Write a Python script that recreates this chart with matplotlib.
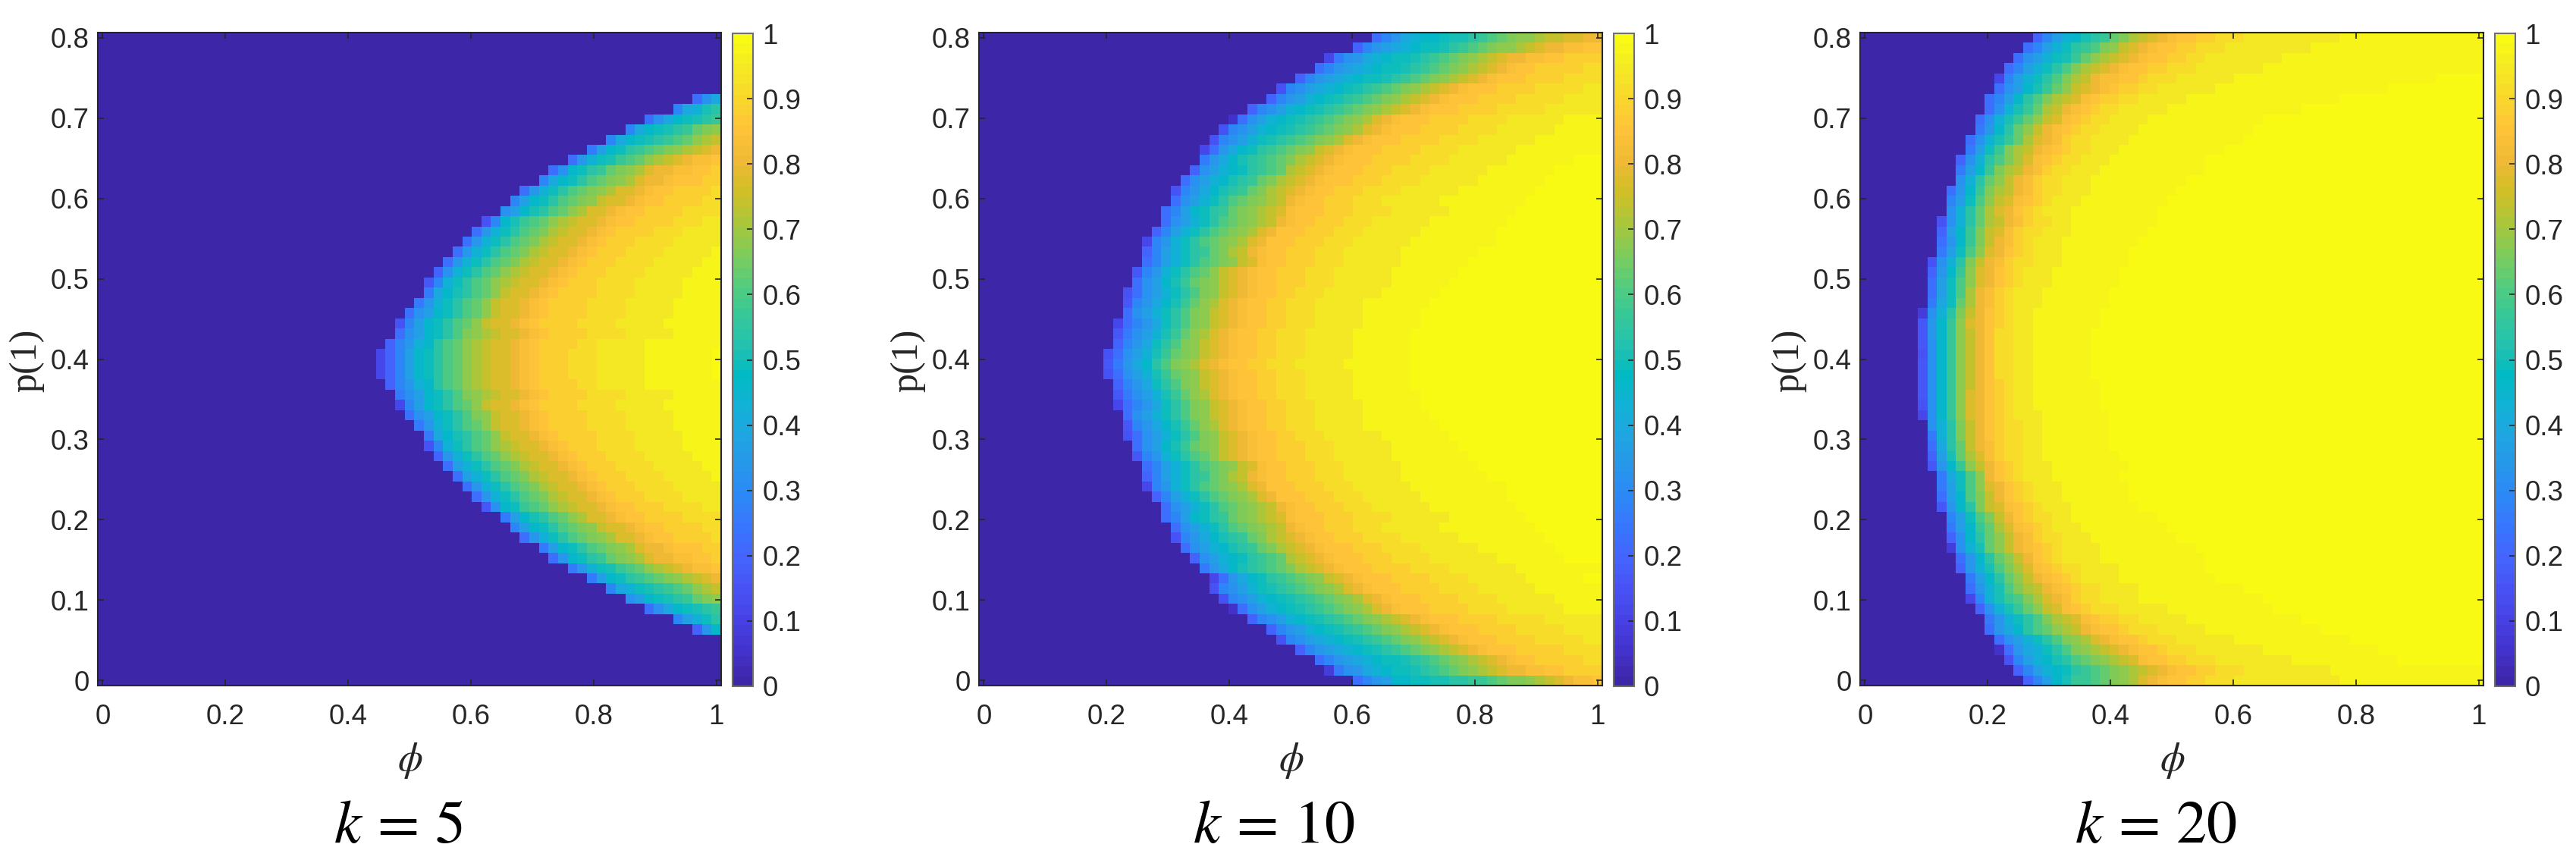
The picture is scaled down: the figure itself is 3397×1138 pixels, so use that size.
import matplotlib
matplotlib.use("Agg")
import matplotlib.pyplot as plt
import numpy as np
from matplotlib.colors import LinearSegmentedColormap

# valores: cada fila va de arriba (p=0.8) hacia abajo (p=0)
# zeros_kN = celdas en cero a la izquierda, levels_kN = niveles en base 36 (z = 1),
# las celdas que faltan a la derecha de cada fila quedan en 1
k_values = [5, 10, 20]
phi_ticks = [0, 0.2, 0.4, 0.6, 0.8, 1]
phi_labels = ["0", "0.2", "0.4", "0.6", "0.8", "1"]
p_ticks = [0, 0.1, 0.2, 0.3, 0.4, 0.5, 0.6, 0.7, 0.8]
p_labels = ["0", "0.1", "0.2", "0.3", "0.4", "0.5", "0.6", "0.7", "0.8"]
cbar_ticks = [0, 0.1, 0.2, 0.3, 0.4, 0.5, 0.6, 0.7, 0.8, 0.9, 1]
cbar_labels = ["0", "0.1", "0.2", "0.3", "0.4", "0.5", "0.6", "0.7", "0.8", "0.9", "1"]

zeros_k5 = [65, 65, 65, 65, 65, 65,
            62, 60, 57, 55, 53, 51, 49, 47, 46, 44, 43, 42, 40, 39, 38, 37, 36, 35, 34, 34, 33, 32, 31, 31, 30, 29, 29, 29,
            30, 31, 31, 32, 33, 34, 34, 35, 36, 37, 38, 39, 40, 42, 43, 44, 46, 47, 49, 51, 53, 55, 57, 60, 62,
            65, 65, 65, 65, 65]
levels_k5 = ["", "", "", "", "", "",
    "8be", "aefij", "8beghijk", "aeghijkmno", "aeghijklmopq", "9dghjklmnopqrs", "8cfhiklmopqrsttu",
    "8bghjkmnoprssttuuv", "aeghjlmnoprsstuuuvv", "8cfhjlmnoprrstuuvvvvw", "adghjlmnoqrrstuuvvvvww",
    "bdgijlmoprrstuuvvvvwwww", "5agiklmopqrrstuuvvvvwwwxx", "8cfhjlmnpqrrstuvvvvwwwxxxx",
    "8cfhjlmnpqrrstuvvvwwwwxxxxx", "8cfhjlmnpqrrstuvvvwwwwxxxxxy", "8cfhjlmnpqrrstuvvvwwwwxxxxxyy",
    "7bfhjlmopqrrstuvvvwwwwxxxxxyyy", "6afhjlmopqrrstuvvvwwwwxxxxxyyyy", "9egijlmoqrrstuvvvvwwwwxxxxxyyyy",
    "9cfhjlmoqrrstuvvvvwwwwxxxxxyyyyy", "8bdghjlmoqrrstuvvvvwwwwxxxxxyyyyy", "5adghjlmoqrrstuvvvvwwwwxxxxxyyyyyy",
    "8bdghjlnopqrrstuvvvvwwwwxxxxxyyyyy", "7acfgjlmopqrrstuvvvvwwxxxxxyyyyyyyy",
    "47adghjlmopqrrstuvvvwwwxxxxxyyyyyyyz", "47adghjlmopqrrstuvvvwwwxxxxxyyyyyyyz", "47adghjlmopqrrstuvvvwwwxxxxxyyyyyyyz",
    "7acfgjlmopqrrstuvvvvwwxxxxxyyyyyyyy", "9bdghjlnopqrrstuvvvvwwwwxxxxxyyyyy", "4adghjlmoqrrstuvvvvwwwwxxxxxyyyyyy",
    "8bdghjlnoqrrstuvvvvwwwwxxxxxyyyyy", "9cfhjlmoqrrstuvvvvwwwwxxxxxyyyyy", "9egijlmoqrrstuvvvvwwwwxxxxxyyyy",
    "5afhjlmopqrrstuvvvwwwwxxxxxyyyy", "7cfhjlmopqrrstuvvvwwwwxxxxxyyy", "8dfhjlmnpqrrstuvvvwwwwxxxxxyy",
    "8dfhjlmnpqrrstuvvvwwwwxxxxxy", "8cfhjlmnpqrrstuvvvwwwwxxxxx", "8cfhjlmnpqrrstuvvvwwwwxxxx",
    "6bghklmopqrrstuuvvvwwwwxx", "9dgijlmoprrstuuvvvvwwww", "adghjlmnoqrrstuuvvvvww", "8cfhjlmnoprrstuuvvvvw",
    "9dghjlmnoprsstuuuvv", "8cghjkmnoprssttuuv", "9cfhiklmopqrsttu", "9dghjklmnopqrs", "aefhijklmopq",
    "bdghijkmno", "8beghijk", "adfhj", "7cg",
    "", "", "", "", ""]

zeros_k10 = [41, 39, 36, 35, 33, 31, 30, 28, 26, 25, 24, 23, 23, 22, 21, 20, 20, 19, 19, 18, 17, 17, 17, 16, 16, 15, 15, 15, 14, 14, 14, 13,
             13, 13, 14, 14, 14, 15, 15, 15, 16, 16, 17, 17, 17, 18, 19, 19, 20, 20, 21, 22, 23, 24, 24, 25, 26, 28, 30, 31, 33, 35, 36, 39]
levels_k10 = [
    "8acefgghiijklmnoopqqrrss", "7acdefghhijklmnoopqrssttuu", "49bcefghhijklmnopqrssttuuvvvv",
    "8acdefghhijklmnopqrstuuvvvvvww", "7acdefghhijklmnopqrstuuuvvvvwwww", "5abdefghijklmnopqrstuuuvvvvwwwwwxx",
    "7acdfghijklmnopqrstuuuvvvvwwwwwxxxx", "7abdfghijklmnopqrstuuuvvvvwwwwwxxxxxx",
    "28bdfghijklmnoprstuuuvvvvwwwwxxxxxxyyyy", "5abdfghijklmnoprstuuuvvvvwwwwxxxxxxyyyyy",
    "5abdfhijklmnoprstuuuvvvvwwwwxxxxxxyyyyyyy", "48ceghjklmnoqrstuuuvvvvwwwwxxxxxxyyyyyyyyy",
    "9cegijklmnpqrstuuuvvvvwwwwxxxxxxyyyyyyy", "7bdfghjklmpqrstuuuvvvwwwwxxxxxxyyyyyyy",
    "8bdfgijkmnpqrstuuuvvvwwwwxxxxxxyyyyyyy", "5acegijkmnpqrstuuvvvwwwwxxxxxxyyyyyyyy",
    "8bdfhjlmnopqstuuvvvwwwxxxxxxyyyyyyyyy", "8adghjkmnopqrtuuuvvvwwwwxxxxxxyyyyyyy",
    "8bdfhjlmnopqstuuvvvwwwxxxxxxyyyyyyyy", "7adfhjlmnoprsuuuvvvwwwxxxxxxyyyyyyyy",
    "4acfhjlmnoprsuuuvvvwwwxxxxxxyyyyyyyyy", "7adfhjkmnpqstuuvvvwwwxxxxxxyyyyyyyy",
    "8adfhjlmnoqrtuuvvvwwwxxxxxxyyyyyyy", "6acfhjlmoqrstuuvvvwwwxxxxxxyyyyyyy",
    "8bdgikmnoqrstuuvvvwwwxxxxxxyyyyyy", "58bdfhjlnoqrstuuvvwwwxxxxxxyyyyyy",
    "6acegikmoprstuuvvwwwxxxxxyyyyyyy", "8bdfhjlnoqrstuuvvwwwxxxxxyyyyyy",
    "48acehjlnoqrstuuvvwwwxxxxxyyyyyy", "69bdfikmoprstuuvvwwwxxxxxyyyyyy",
    "7acehjlnoqrstuuvvwwwxxxxxyyyyyy", "58bdfikmnoqrstuuvvwwwxxxxxyyyyyy",
    "69cegjlnoprstuuvvwwwxxxxxyyyyyyy", "58bdfikmnoqrstuuvvwwwxxxxxyyyyyy",
    "7acehjlnoqrstuuvvwwwxxxxxyyyyyy", "69bdfikmoprstuuvvwwwxxxxxyyyyyyy",
    "48acehjlnoqrstuuvvwwwxxxxxyyyyyy", "8bdfhjlnoqrstuuvvwwwxxxxxyyyyyyy",
    "6acegikmoprstuuvvwwwxxxxxyyyyyyyy", "58bdfhjlnoqrstuuvvwwwxxxxxxyyyyyyy",
    "8bdgikmnoqrstuuvvvwwwxxxxxxyyyyyyy", "6acfhjlmoqrstuuvvvwwwxxxxxxyyyyyyyy",
    "8adfhjlmnoqrtuuvvvwwwxxxxxxyyyyyyyy", "7adfhjkmnpqstuuvvvwwwxxxxxxyyyyyyyyy",
    "4acfhjlmnoprsuuuvvvwwwxxxxxxyyyyyyyyyy", "7adfhjlmnoprsuuuvvvwwwxxxxxxyyyyyyyyy",
    "8bdfhjlmnopqstuuvvvwwwxxxxxxyyyyyyyyy", "8adghjkmnopqrtuuuvvvwwwwxxxxxxyyyyyyyy",
    "8bdfhjlmnopqstuuvvvwwwxxxxxxyyyyyyyyyy", "5acegijkmnpqrstuuvvvwwwwxxxxxxyyyyyyyyy",
    "8bdfgijkmnpqrstuuuvvvwwwwxxxxxxyyyyyyyy", "7bdfghjklmpqrstuuuvvvwwwwxxxxxxxyyyyyyy",
    "9cegijklmnpqrstuuuvvvvwwwwxxxxxxxyyyyyyyyy", "48ceghjklmnoqrstuuuvvvvwwwwxxxxxxyyyyyy",
    "5abdfhijklmnoprstuuuvvvvwwwwxxxxxxyyyyyyy", "5abdfghijklmnoprstuuuvvvvwwwwxxxxxxyyyyy",
    "28bdfghijklmnoprstuuuvvvvwwwwxxxxxxyyyy", "7abdfghijklmnopqrstuuuvvvvwwwwwxxxxxx",
    "7acdfghijklmnopqrstuuuvvvvwwwwwxxxx", "5abdefghijklmnopqrstuuuvvvvwwwwwxx",
    "7acdefghijklmnopqrstuuuvvvvvwwww", "8acdefghhijklmnopqrstuuvvvvvww",
    "39bcefghhijklmnopqrssttuuvvvv", "8acdgghhiijjkklmnnopqrsttu"]

zeros_k20 = [18, 17, 16, 15, 14, 14, 13, 13, 12, 12, 11, 11, 10, 10, 10, 9, 9, 9, 8, 8, 8, 8, 7, 7, 7, 7, 7, 6, 6, 6, 6, 6,
             6, 6, 6, 6, 6, 6, 7, 7, 7, 7, 7, 8, 8, 8, 8, 9, 9, 9, 9, 10, 10, 11, 11, 11, 12, 13, 13, 14, 14, 15, 16, 17]
levels_k20 = [
    "7adfgijkmnpqrstuuvvwwwxxxxxxxxxxyyyyyyyyyyyyyyy", "8adfhjklnoqrstuuvvwwwxxxxxxxxxyyyyyyyyyyyyyyyyyy",
    "8bdfhikmopqrstuuvvwwxxxxxxxxyyyyyyyyyyyyyyyyyyyyy", "8adfhjlnpqrstuuvvwwwxxxxxxxyyyyyyyyyyyyyyyyyyyyyyy",
    "4adfhjlnpqsttuuvwwwxxxxxxyyyyyyyyyyyyyyyyyyyyy", "8bdgikmoqrstuvvwwxxxxxxyyyyyyyyyyyyyyyyyy",
    "8adgjlnpqrtuvvwwxxxxxyyyyyyyyyyyyyyyy", "8bfikmpqstuvwwxxxxxyyyyyyyyyyyyyy",
    "8bfikmoqrtuvwwxxxxyyyyyyyyyyyy", "9cgjmoqstuvwwxxxxyyyyyyyyyyyy", "8bfikmprstvwwxxxxyyyyyyyyyyyy",
    "9dhknpqstuvwwxxxyyyyyyyyyyy", "7bfjlnprtuvwwxxxyyyyyyyyyy", "9dgknpqstvwwxxxyyyyyyyyyyy",
    "bfjmoqstvwwxxxyyyyyyyyyy", "8cgknpqstvwwxxxyyyyyyyyy", "adhloqrtuvwxxxyyyyyyyyy", "bfjmprsuvwxxxyyyyyyyyy",
    "5bfjmpqstvwwxxyyyyyyyyy", "7dgknqrtvwwxxxyyyyyyyy", "8cgknqstvwxxxyyyyyyyy", "9dhlorsuvwxxxyyyyyyy",
    "5bfjnqstvwwxxxyyyyyyy", "7cgkorsuvwxxxyyyyyyy", "8dhlorsuvwxxxyyyyyyy", "8dhlpstvwxxxyyyyyyy",
    "9ehmpstvwxxxyyyyyyy", "3bfjnqsuvwxxyyyyyyy", "6cgkorsuvwxxyyyyyyy", "6cgkoqsuwwxxyyyyyy",
    "6bgkoqsuwwxxyyyyyy", "5bgkoqsuwwxxyyyyyy", "6bgkoqsuwwxxyyyyyy", "6bgkoqsuwwxxyyyyyy",
    "6bgkoqsuvwxxyyyyyyy", "6bgkorsuvwxxyyyyyyy", "5bgkorsuvwxxyyyyyyy", "4bgkorsuvwxxxyyyyyyy",
    "bfjnqsuvwwxxyyyyyyy", "9fjnqsuvwwxxyyyyyyy", "8ejmqstvwwxxyyyyyyy", "7dimprtvwwxxyyyyyyyy",
    "6cgkoqsuvwxxxyyyyyyyy", "9ehlosuvwxxxyyyyyyy", "9dhlorsuvwxxxyyyyyyy", "8dglnqsuvwxxxyyyyyyy",
    "6cgjnqrtuvwxxxyyyyyyy", "adhlnqsuvwwxxyyyyyyyyy", "9dgkmprtuvwxxxyyyyyyyyy", "7bgjmoqstvwwxxxyyyyyyyyy",
    "3bfimoqstuvwxxxxyyyyyyyyyy", "8cgjmoqsuvwxxxxyyyyyyyyyyy", "7cfilnprtuvwwxxxxyyyyyyyyy",
    "9dgjmoqstuvwxxxxyyyyyyyyyy", "8cfilnpqstuvwwxxxxyyyyyyyyyyy", "4afiklnprstvwwxxxxyyyyyyyyyyyyy",
    "7bfikmoqrtuvwwwxxxxxyyyyyyyyyyy", "9cfhjlnpqrtuvvwwxxxxxyyyyyyyyyyyy", "8cegjlmopqstuuvwwwxxxxxyyyyyyyyyyyy",
    "8bdfhjlnoprstuuvwwwxxxxxxyyyyyyyyyyyy", "28cefhjlnopqrstuuvwwwxxxxxxxyyyyyyyyyyyy",
    "5adfgijlmnopqrtuuvvwwwxxxxxxxxyyyyyyyyyyy", "7adfghjklmnopqrstuuvvwwwxxxxxxxxxyyyyyyyyyyyyyyyyy",
    "7adgikklmnoprstuuvvwwwxxxxxxxxxxxyyyyyyyyyyyyyyyy"]

parula = LinearSegmentedColormap.from_list("parula", [
    (.2422, .1504, .6603), (.2647, .1978, .7952), (.2783, .2559, .8991), (.2810, .3228, .9579),
    (.2699, .3892, .9906), (.2206, .4603, .9973), (.1786, .5289, .9682), (.1540, .5902, .9218),
    (.1248, .6459, .8883), (.0689, .6948, .8394), (.0067, .7312, .7660), (.1408, .7584, .6842),
    (.2161, .7843, .5923), (.3406, .8008, .4789), (.5044, .7993, .3480), (.6720, .7793, .2227),
    (.8203, .7498, .1535), (.9393, .7288, .2100), (.9970, .7659, .2199), (.9786, .8386, .1766),
    (.9597, .9135, .1423), (.9769, .9839, .0805)], N=64)

W, H = 3398.0, 1138.0
GRIS = "#262626"
N_COLS = 65
N_ROWS = 64
d_phi = 1.0 / (N_COLS - 1)
d_p = 0.8 / (N_ROWS - 1)

plt.rcParams["font.family"] = ["Liberation Sans", "DejaVu Sans"]
plt.rcParams["mathtext.fontset"] = "stix"


def armar_matriz(zeros, levels):
    # Pasa las filas de texto a una matriz numerica
    filas = []
    for z, fila in zip(zeros, levels):
        vals = [0.0] * z + [int(c, 36) / 35.0 for c in fila]
        vals = vals + [1.0] * (N_COLS - len(vals))
        filas.append(vals[:N_COLS])
    return np.array(filas)


def caja(x0, y0, x1, y1):
    # Rectangulo en pixeles (y hacia abajo) a coordenadas de figura
    return [x0 / W, 1 - y1 / H, (x1 - x0) / W, (y1 - y0) / H]


fig = plt.figure(figsize=(W / 100, H / 100), dpi=100, facecolor="white")

paneles = [(129, zeros_k5, levels_k5, 525), (1291, zeros_k10, levels_k10, 1680), (2453, zeros_k20, levels_k20, 2843)]

for (x0, zeros, levels, x_titulo), k in zip(paneles, k_values):
    ax = fig.add_axes(caja(x0, 43, x0 + 822, 904))
    im = ax.imshow(armar_matriz(zeros, levels), cmap=parula, vmin=0, vmax=1, aspect="auto", interpolation="nearest",
                   extent=[-d_phi / 2, 1 + d_phi / 2, -d_p / 2, 0.8 + d_p / 2])
    ax.set_xticks(phi_ticks)
    ax.set_xticklabels(phi_labels)
    ax.set_yticks(p_ticks)
    ax.set_yticklabels(p_labels)
    ax.tick_params(axis="x", direction="in", top=True, length=6, width=1.2, color=GRIS, labelcolor=GRIS, labelsize=26.5, pad=17)
    ax.tick_params(axis="y", direction="in", right=True, length=6, width=1.2, color=GRIS, labelcolor=GRIS, labelsize=26.5, pad=8)
    for lado in ax.spines.values():
        lado.set_color(GRIS)
        lado.set_linewidth(1.5)

    # Barra de color
    cax = fig.add_axes(caja(x0 + 837, 44, x0 + 864, 905))
    cb = fig.colorbar(im, cax=cax)
    cb.set_ticks(cbar_ticks)
    cb.set_ticklabels(cbar_labels)
    cb.ax.minorticks_off()
    cb.ax.tick_params(direction="in", length=6, width=1.2, color=GRIS, labelcolor=GRIS, labelsize=26.5, pad=9)
    cb.outline.set_edgecolor("#6e6e6e")
    cb.outline.set_linewidth(1.5)

    # Textos
    fig.text((x0 - 94) / W, 1 - 475 / H, "p(1)", rotation=90, ha="center", va="center", color=GRIS, fontsize=36,
             family=["Liberation Serif"])
    fig.text((x0 + 412) / W, 1 - 1003 / H, r"$\phi$", ha="center", va="center", color=GRIS, fontsize=38)
    fig.text(x_titulo / W, 1 - 1090 / H, r"$k\,=\,%d$" % k, ha="center", va="center", color="black", fontsize=58)

fig.savefig("out.png", dpi=100)
